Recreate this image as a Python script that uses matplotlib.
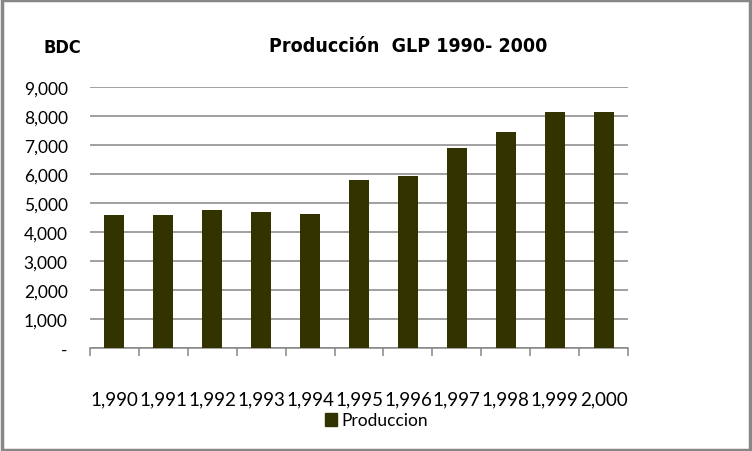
import matplotlib
matplotlib.use("Agg")
import matplotlib.pyplot as plt
from matplotlib.patches import Rectangle

years = [1990, 1991, 1992, 1993, 1994, 1995, 1996, 1997, 1998, 1999, 2000]
produccion = [4598, 4598, 4759, 4701, 4632, 5793, 5931, 6907, 7459, 8148, 8148]
year_labels = [f"{y:,}" for y in years]
y_ticks = [0, 1000, 2000, 3000, 4000, 5000, 6000, 7000, 8000, 9000]
y_labels = ["-"] + [f"{v:,}" for v in y_ticks[1:]]

bar_color = "#333300"
body = ["Lato", "DejaVu Sans"]

fig = plt.figure(figsize=(7.52, 4.52), dpi=100)
ax = fig.add_axes([90 / 752, 1 - 349.3 / 452, 538 / 752, 261 / 452])

x = list(range(len(years)))
ax.bar(x, produccion, width=0.41, color=bar_color, zorder=3)

ax.set_xlim(-0.5, len(years) - 0.5)
ax.set_ylim(0, 9000)
ax.set_yticks(y_ticks)
ax.set_yticklabels(y_labels, family=body, fontsize=12.5)
ax.yaxis.grid(True, color="#868686", linewidth=1.1, zorder=0)
ax.tick_params(axis="y", length=0, pad=16)

ax.set_xticks([i - 0.5 for i in range(len(years) + 1)])
ax.set_xticklabels([])
ax.set_xticks(x, minor=True)
ax.set_xticklabels(year_labels, minor=True, family=body, fontsize=13.5)
ax.tick_params(axis="x", which="major", length=6, color="#868686", width=1.1)
ax.tick_params(axis="x", which="minor", length=0, pad=30)

for side in ["top", "right", "left"]:
    ax.spines[side].set_visible(False)
ax.spines["bottom"].set_color("#868686")
ax.spines["bottom"].set_linewidth(1.1)

fig.text(408 / 752, 1 - 46 / 452, "Producción  GLP 1990- 2000", ha="center", va="center",
         family="DejaVu Sans", fontstretch="condensed", fontsize=14, fontweight="bold")
fig.text(62 / 752, 1 - 48 / 452, "BDC", ha="center", va="center",
         family="DejaVu Sans", fontstretch="condensed", fontsize=13, fontweight="bold")

fig.patches.append(Rectangle((325 / 752, 1 - 427 / 452), 12 / 752, 13 / 452,
                             transform=fig.transFigure, color=bar_color))
fig.text(341 / 752, 1 - 421 / 452, "Produccion", ha="left", va="center",
         family=body, fontsize=12.5)

fig.patches.append(Rectangle((0.002, 0.003), 0.995, 0.994, transform=fig.transFigure,
                             fill=False, edgecolor="#878787", linewidth=2.5))

fig.savefig("out.png", dpi=100)
